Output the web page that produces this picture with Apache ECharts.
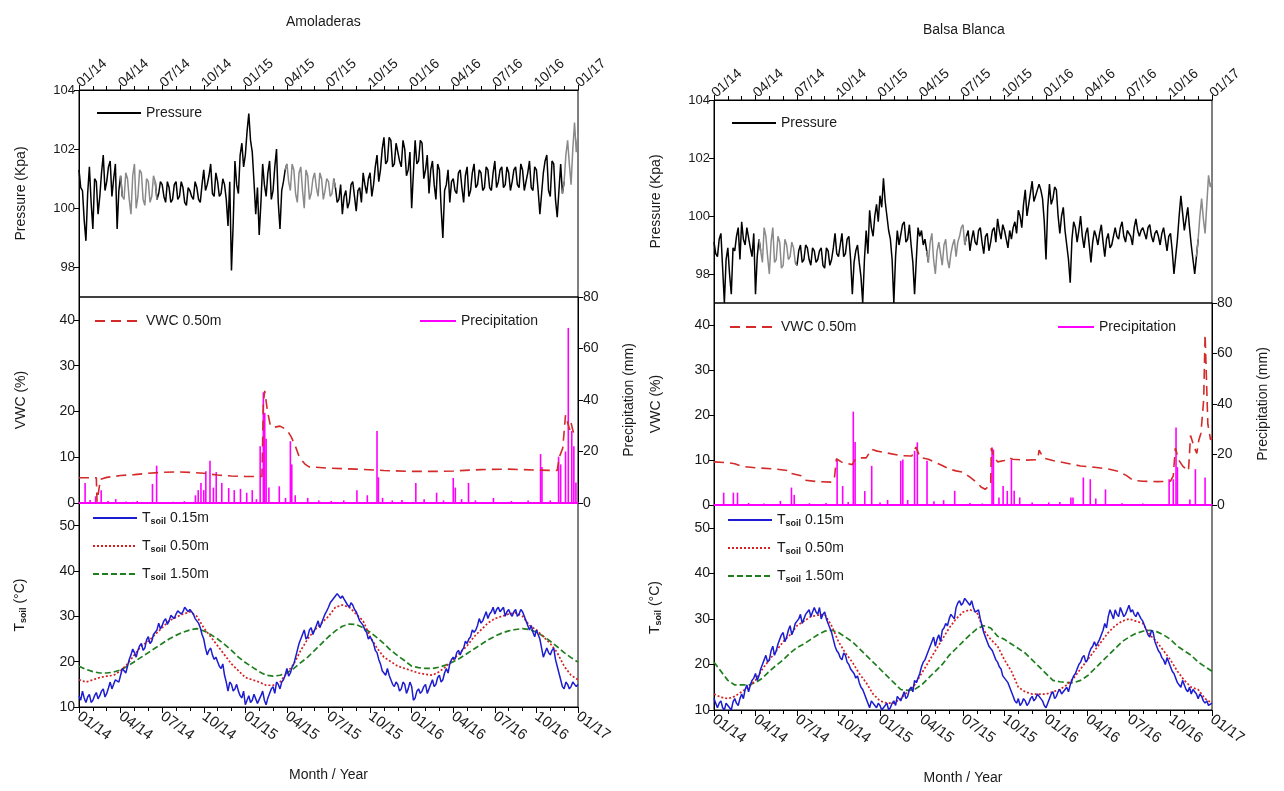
<!DOCTYPE html>
<html>
<head>
<meta charset="utf-8">
<script src="https://cdn.jsdelivr.net/npm/echarts@6/dist/echarts.min.js"></script>
<style>
html,body{margin:0;padding:0;background:#fff;}
#chart{width:1284px;height:791px;}
</style>
</head>
<body>
<div id="chart"></div>
<script>
// ---------- DATA ----------
const tickLabels = ['01/14','04/14','07/14','10/14','01/15','04/15','07/15','10/15','01/16','04/16','07/16','10/16','01/17'];
const sites = ['Amoladeras', 'Balsa Blanca'];

// Pressure (kPa): values at every 0.25 month from 01/14 ...
const pressA = [
101.3,100.6,98.9,101.4,99.3,100.9,100.4,101.8,100.9,101.6,101.0,99.3,
101.1,100.3,101.0,99.8,101.5,100.4,101.2,100.1,100.9,100.4,100.9,100.5,
100.8,100.2,100.7,100.3,100.9,100.4,100.7,100.1,100.6,100.3,100.7,100.2,
101.3,100.8,101.5,100.4,100.9,100.5,100.8,99.4,97.9,101.6,100.5,102.2,
101.8,103.2,101.9,99.8,99.1,101.5,100.4,101.6,100.6,102.0,99.3,100.9,
101.5,100.6,101.3,100.2,101.4,100.0,101.1,100.5,101.2,100.4,101.0,100.6,
100.9,100.5,100.7,100.3,99.8,100.6,100.2,100.9,99.9,100.7,101.2,100.5,
101.2,100.8,101.8,101.3,102.4,101.6,102.3,101.5,102.2,101.4,102.0,101.3,
100.0,102.3,101.6,102.2,101.3,100.5,101.6,100.3,101.3,99.0,100.8,100.2,
101.0,100.5,101.3,100.2,101.4,100.6,101.5,100.8,101.2,100.7,101.3,100.6,
101.6,100.9,101.4,100.8,101.2,100.9,101.4,100.7,101.3,100.9,101.6,100.6,
101.3,99.8,101.2,101.8,100.4,101.5,99.7,101.5,100.9,102.3,100.8,102.9,
102.5];
// ... and at the mid points in between (0.125 + 0.25 k)
const pressAMid = [
100.7,99.6,100.5,100.2,101.0,99.8,101.2,100.6,101.4,100.4,101.5,100.6,
100.4,101.2,100.3,101.1,100.0,101.3,100.3,101.0,100.2,101.1,100.3,100.9,
100.4,100.9,100.2,100.8,100.3,100.9,100.2,100.7,100.4,100.9,100.3,100.8,
100.6,101.1,100.5,101.2,100.4,101.0,100.3,100.9,99.5,100.8,101.8,101.4,
102.6,102.3,100.9,100.7,100.2,100.8,101.2,100.3,101.4,100.2,100.6,101.3,
100.9,101.5,100.5,101.2,100.6,101.3,100.3,101.0,100.7,101.2,100.3,101.0,
100.4,101.0,100.2,100.8,100.4,100.0,100.8,100.4,100.6,100.2,100.8,101.0,
100.4,101.4,100.9,102.0,101.5,102.4,101.4,102.2,101.6,102.3,101.1,101.9,
101.2,101.5,102.3,101.0,101.8,101.3,100.8,101.5,100.0,100.6,101.3,100.9,
100.6,101.2,100.7,101.1,100.4,101.2,100.7,101.3,100.6,101.4,100.7,101.2,
100.7,101.3,100.7,101.4,100.6,101.3,100.8,101.5,100.6,101.2,100.7,101.4,
100.6,100.5,101.6,100.6,101.6,100.3,100.6,100.5,101.8,101.5,102.0,101.9];
const pressB = [
99.1,98.6,99.4,97.0,98.9,97.3,98.8,99.6,99.8,99.0,99.6,98.6,
97.3,99.2,98.4,99.3,98.0,99.6,98.5,99.1,98.3,99.0,98.6,98.9,
98.3,99.0,98.5,98.9,98.3,98.8,98.5,98.9,98.2,98.8,98.5,99.4,
98.6,99.4,98.7,99.3,97.3,98.8,98.4,97.0,99.5,100.2,99.3,100.4,
100.7,101.3,100.0,99.2,97.0,99.5,99.0,99.8,99.2,99.0,97.3,99.6,
99.5,99.2,98.4,99.4,98.0,99.1,98.3,99.2,98.2,99.0,98.6,99.3,
99.7,99.3,98.8,99.5,99.0,99.6,98.7,99.4,99.1,99.6,99.9,99.2,
99.5,98.9,99.2,99.8,100.2,99.6,100.9,100.4,101.2,100.7,101.1,100.6,
98.5,101.1,100.6,100.9,99.4,100.3,99.0,97.7,99.8,99.1,100.0,98.9,
99.6,98.4,99.5,99.0,99.7,98.6,99.4,99.0,99.6,99.2,99.8,99.1,
99.5,99.0,99.9,99.3,99.6,99.2,99.7,99.1,99.5,99.0,99.6,98.8,
99.4,98.0,99.2,100.7,99.5,100.3,99.0,98.0,99.2,100.6,99.4,101.4,
101.2];
const pressBMid = [
98.7,99.2,98.2,98.5,98.0,98.9,99.3,98.5,99.2,99.6,98.9,99.4,
98.6,98.8,99.6,98.6,99.1,98.4,99.3,98.2,99.2,98.5,99.1,98.4,
98.8,98.4,99.0,98.5,98.9,98.4,98.8,98.3,98.9,98.3,98.9,98.7,
99.0,98.6,99.2,98.5,98.4,99.0,97.9,98.5,98.7,99.6,100.0,99.8,
100.3,100.5,99.5,98.5,98.6,99.0,99.7,99.1,99.7,98.4,98.5,99.3,
99.0,98.8,99.1,98.5,98.8,98.7,99.0,98.5,98.7,99.2,99.1,99.6,
99.0,99.5,99.2,99.1,99.5,99.1,99.3,98.8,99.5,99.1,99.5,99.7,
99.2,99.5,99.6,99.4,100.0,100.4,100.0,100.8,100.5,100.9,100.9,99.8,
100.3,100.4,101.0,100.0,100.0,99.5,98.5,99.2,99.6,99.5,99.3,99.4,
99.0,99.1,99.3,99.4,99.1,99.2,98.9,99.3,99.3,99.6,99.3,99.5,
99.3,99.6,99.5,99.5,99.4,99.6,99.3,99.4,99.3,99.4,99.2,99.3,
98.8,98.6,100.0,100.1,99.9,99.6,98.5,98.6,100.0,99.9,100.4,101.0];
// gap-filled (grey) periods, in months from 01/14
const grayA = [[3.1,5.6],[15.0,18.4],[35.0,36]];
const grayB = [[3.3,5.9],[15.4,18.2],[34.9,36]];

// VWC 0.50 m (%), [month, value]
const vwcA = [[0,5.5],[1.25,5.5],[1.3,0.3],[1.55,5.2],[2,5.6],[3,6.0],[4,6.2],[5,6.5],[6,6.7],[7,6.8],[8,6.7],[9,6.5],[10,6.1],[11,5.9],[12,5.8],[13.2,5.8],[13.3,22],[13.4,24.5],[13.6,20],[13.8,17],[14,16.5],[14.5,16.8],[15,16],[15.3,14.5],[15.6,12.5],[15.9,10],[16.3,8.5],[16.6,7.9],[18,7.6],[20,7.4],[22,7.1],[24,6.9],[26,6.9],[27,7.0],[29,7.3],[31,7.4],[33,7.2],[34.5,7.1],[34.65,10],[34.9,12],[35.1,19.2],[35.4,16],[35.5,17.5],[35.7,15],[36,14.5]];
const vwcB = [[0,9.6],[1,9.4],[1.5,9.2],[2,8.6],[3,8.3],[4.5,8.0],[5.5,7.6],[5.6,7.0],[6.3,6.5],[6.6,5.5],[7.5,5.2],[8.5,5.1],[8.7,5.8],[8.85,10.3],[9.2,9.6],[9.6,9.3],[10,9.0],[10.2,10.2],[10.6,10.5],[11,10.5],[11.4,12.4],[11.8,12.0],[12.5,11.6],[13.5,11.0],[14.3,10.9],[14.6,12.9],[14.9,10.6],[15.5,10.2],[16,9.5],[16.5,8.8],[17,8.0],[17.5,7.6],[18,7.3],[18.5,6.2],[19,5.0],[19.3,4.0],[19.6,3.5],[20,4.5],[20.05,12.7],[20.2,11.0],[20.5,9.6],[21,9.9],[21.3,10.5],[21.6,10.2],[22.5,10.0],[23.4,10.1],[23.5,12.2],[23.8,10.5],[24.5,9.9],[25.5,9.3],[26.5,8.7],[27.5,8.4],[28.5,8.0],[29.2,7.5],[29.8,6.6],[30.3,5.5],[31,5.3],[32,5.2],[33,5.3],[33.2,6.5],[33.35,12.7],[33.6,10.0],[33.9,8.6],[34.3,7.6],[34.45,15.5],[34.7,13.0],[34.9,11.5],[35.05,14.5],[35.2,16.0],[35.4,23.5],[35.5,38.0],[35.6,28],[35.7,18],[35.9,14.5],[36,15.0]];

// Precipitation (mm), [month, value]
const precA = [[0.44,7.8],[0.8,1.2],[1.2,2.6],[1.6,5],[2.1,0.8],[2.65,1.5],[3.4,0.6],[4.2,0.8],[5.3,7.4],[5.6,14.5],[6.8,0.5],[7.6,0.7],[8.4,3],[8.6,5],[8.8,7.8],[9.0,5],[9.15,12.3],[9.45,16.4],[9.7,6],[9.9,12],[10.3,7.8],[10.8,5.8],[11.2,5],[11.65,5.5],[12.1,4],[12.5,5],[12.8,1.5],[13.07,22],[13.3,43],[13.4,35],[13.5,25],[13.7,6],[14.45,6.5],[14.9,2],[15.25,24],[15.35,15],[15.6,3],[16.5,2],[17.3,1],[18.2,0.8],[19.1,1],[20.05,5],[20.8,3],[21.5,28],[21.6,10],[21.9,2],[22.6,1],[23.3,1.2],[24.3,7.8],[24.9,1.5],[25.8,4],[26.3,1],[27.0,9.7],[27.15,6],[27.6,1.5],[28.1,7.8],[28.6,1],[29.9,2],[31.2,0.8],[32.4,1],[33.3,19],[33.4,14],[34.0,1],[34.6,18],[34.75,15],[35.1,20],[35.3,68],[35.55,28],[35.7,22],[35.85,8]];
const precB = [[0.7,4.9],[1.4,4.9],[1.7,4.9],[2.5,0.8],[3.6,0.6],[4.8,1.6],[5.6,6.9],[5.8,4],[6.9,0.7],[8.1,0.8],[8.9,18],[9.3,7.5],[9.7,1.2],[10.07,37],[10.2,25],[10.9,5.5],[11.4,15.5],[12.0,1],[12.55,2],[13.5,17.5],[13.65,18],[14.0,2],[14.5,21.5],[14.7,24.8],[15.4,17.5],[15.9,1.5],[16.6,1.9],[17.4,5.6],[18.5,0.8],[19.4,0.6],[20.1,22.8],[20.2,22],[20.6,3],[20.9,7.5],[21.2,5.6],[21.5,18],[21.7,5.6],[22.1,3],[23.0,1],[24.2,1],[25.0,1.2],[25.8,3],[25.95,3],[26.7,10.9],[27.2,10.2],[27.6,2.6],[28.3,6.2],[29.5,0.7],[31.0,0.6],[32.9,10.2],[33.2,10.2],[33.4,30.7],[33.5,15],[34.4,2.2],[34.8,14.2],[35.5,10.9]];

// Soil temperature (°C); 0.15 m every 0.25 month (+ mid points), 0.50 m and 1.50 m every 0.5 month
const t015A = [
12.5,13.5,11.0,12.8,11.5,13.2,12.5,14.0,13.0,15.5,15.0,16.2,
17.0,18.0,19.0,21.5,22.0,22.5,24.0,23.0,25.5,24.5,26.5,28.5,
28.0,29.5,29.0,30.5,30.5,31.5,31.0,32.0,31.5,30.5,29.5,27.5,
25.0,21.5,23.0,20.5,20.0,18.5,17.0,13.5,15.0,14.0,13.5,12.0,
10.5,12.5,11.5,12.5,11.0,13.5,10.5,13.0,14.5,15.5,14.0,16.0,
18.5,17.5,19.5,22.5,25.0,27.0,25.5,27.5,27.0,29.0,28.5,30.5,
32.0,33.5,34.5,35.2,34.5,33.5,32.0,32.5,31.0,29.0,28.0,26.5,
25.5,24.0,22.0,19.5,17.5,18.5,16.0,14.5,15.0,14.0,15.0,14.0,
14.5,12.0,14.0,13.5,15.0,14.0,16.0,15.0,17.0,16.0,18.5,19.5,
21.0,22.0,21.5,23.0,24.0,25.5,26.5,28.0,28.5,30.0,29.5,31.0,
30.5,32.0,31.0,30.0,31.5,30.0,31.5,30.5,31.0,29.0,27.0,26.5,
27.0,25.0,21.0,23.0,21.5,23.0,19.0,16.0,14.0,15.0,14.5,15.0,
15.0];
const t015AMid = [
11.5,12.0,12.2,11.0,12.5,11.8,13.5,12.2,14.2,14.0,16.0,15.5,
18.5,17.5,20.5,22.8,21.0,23.5,22.5,24.8,24.0,26.0,27.0,27.2,
29.0,28.2,30.2,29.5,31.2,30.5,32.0,31.0,31.8,29.5,28.5,26.0,
23.0,22.5,21.5,21.0,19.0,19.5,15.5,15.5,13.5,15.0,12.5,13.5,
11.5,11.0,12.8,10.8,12.5,11.5,12.0,14.0,13.0,15.0,15.5,17.0,
16.8,18.8,21.0,24.0,26.0,25.0,27.0,26.0,28.0,27.5,29.5,31.2,
33.0,34.0,35.0,34.0,33.8,32.5,33.0,31.5,30.0,28.5,27.0,25.0,
24.8,22.5,20.5,18.0,17.0,17.0,15.0,15.5,13.5,15.5,13.0,15.5,
11.5,13.5,13.0,14.5,13.0,15.0,14.5,16.5,15.5,17.5,17.5,20.5,
20.5,22.5,22.5,24.5,25.0,27.0,27.0,29.5,29.0,31.0,30.5,32.0,
31.5,31.0,32.0,31.0,30.5,31.0,30.0,31.5,30.0,28.0,28.0,25.5,
26.0,23.0,22.0,22.0,22.5,20.5,17.5,14.5,15.5,14.0,15.5,14.5];
const t050A = [
16.0,15.5,16.0,16.5,16.8,17.0, 18.0,19.5,21.5,23.5,24.5,26.0,
27.5,29.0,29.8,30.5,31.0,30.0, 27.5,25.5,23.5,21.5,19.5,18.0,
16.5,16.0,15.5,14.8,14.8,15.5, 17.5,19.5,22.5,25.0,27.0,28.5,
30.0,32.0,32.5,32.0,30.5,29.0, 25.5,23.0,21.0,20.0,19.0,18.5,
18.0,17.5,17.2,17.0,17.8,19.0, 20.5,22.0,23.5,25.5,27.0,28.5,
29.5,30.0,30.5,30.8,30.0,28.0, 27.0,25.5,24.0,22.0,19.0,17.0,
16.0];
const t150A = [
19.0,18.3,17.8,17.5,17.5,17.7, 18.2,19.0,20.0,21.0,22.0,23.0,
24.0,25.0,25.8,26.5,27.0,27.3, 26.8,26.0,25.0,23.8,22.5,21.0,
19.8,18.8,17.8,17.0,16.8,17.0, 17.5,18.5,19.8,21.0,22.5,24.0,
25.5,26.8,27.8,28.3,28.2,27.5, 26.5,25.3,24.0,22.5,21.3,20.2,
19.0,18.7,18.5,18.5,18.8,19.3, 20.0,20.8,21.8,22.8,23.8,24.8,
25.6,26.3,26.8,27.1,27.3,27.1, 26.5,25.6,24.5,23.3,22.0,20.9,
19.9];
const t015B = [
12.5,10.5,12.0,10.0,11.0,10.0,12.5,11.0,13.5,14.5,14.0,16.5,
18.0,17.5,20.0,22.0,21.0,24.0,23.0,25.5,27.0,26.0,28.5,27.5,
29.5,31.0,30.0,31.5,30.5,32.5,31.0,30.0,31.5,29.0,27.0,24.0,
22.5,21.0,22.0,20.0,18.5,17.0,16.0,14.5,12.5,10.5,12.0,10.5,
11.0,10.0,11.5,10.5,12.0,13.0,12.0,14.0,13.0,15.0,16.5,17.0,
19.5,21.0,23.0,25.0,24.0,26.5,27.5,29.0,30.0,31.0,32.5,34.0,
33.5,34.5,33.0,32.5,31.5,30.0,27.0,25.0,24.0,22.0,20.5,19.0,
17.5,16.0,15.0,12.0,12.5,11.5,12.0,11.5,13.0,12.5,13.5,12.0,
10.5,12.5,14.0,13.0,14.5,13.5,15.0,15.5,17.5,19.0,20.5,22.0,
21.0,23.5,25.0,24.0,26.5,29.0,30.5,31.0,32.0,30.5,32.5,31.0,
33.0,32.0,30.5,31.5,29.5,27.5,26.0,27.0,24.0,22.5,21.0,21.5,
19.5,18.0,16.0,15.0,15.5,14.0,13.5,14.5,12.5,13.0,11.5,11.0,
11.5];
const t015BMid = [
11.5,11.5,10.5,11.5,10.5,11.8,11.5,12.5,12.5,15.5,15.5,17.0,
16.5,19.0,21.0,20.5,23.0,22.0,24.5,26.5,25.0,27.5,26.5,29.0,
30.0,29.0,31.0,32.0,31.5,31.5,32.5,31.0,30.0,28.0,25.5,23.0,
21.5,22.5,20.5,19.0,18.0,17.5,15.0,13.5,11.5,12.0,11.0,11.5,
10.0,11.0,10.0,11.5,11.0,12.5,13.0,12.5,14.5,14.0,16.0,18.0,
20.5,22.0,24.0,26.0,25.5,25.0,28.0,28.5,31.0,30.0,33.5,33.0,
34.5,33.5,34.0,31.5,32.0,28.5,26.0,24.0,23.0,21.0,19.5,17.5,
16.5,15.0,13.0,11.5,11.0,12.5,11.0,12.5,12.0,13.5,12.5,11.0,
11.5,13.5,12.5,14.0,13.5,14.5,14.0,16.5,18.0,20.0,21.5,20.5,
22.5,24.0,24.0,25.5,27.5,28.0,32.0,30.0,31.0,32.5,30.5,32.0,
31.5,31.0,31.5,30.0,28.5,26.5,27.5,25.0,23.0,21.5,20.0,20.5,
18.5,17.0,15.5,16.5,14.5,15.0,14.5,13.5,13.5,12.0,12.0,11.0];
const t050B = [
13.5,12.8,12.5,13.0,14.0,15.0, 16.5,19.0,21.0,23.0,25.0,26.5,
28.5,29.5,30.5,30.8,31.0,28.5, 25.0,22.5,20.5,18.0,16.0,13.5,
12.0,11.5,11.5,12.5,14.0,15.5, 18.0,20.5,23.0,25.5,28.0,30.0,
31.5,32.0,31.5,27.5,25.5,24.0, 21.0,18.5,15.0,14.0,13.5,13.5,
13.5,14.0,14.5,15.5,17.0,19.0, 21.0,23.0,25.0,27.0,28.5,29.5,
30.0,29.5,29.0,26.5,25.0,23.0, 21.0,18.5,16.5,15.0,14.5,12.5,
11.5];
const t150B = [
20.5,18.5,16.5,15.5,15.5,15.5, 16.0,17.0,18.5,19.8,21.0,22.5,
23.7,24.5,25.5,26.5,27.3,27.5, 27.0,26.0,25.0,23.5,22.0,20.5,
19.0,17.5,16.0,14.5,14.3,14.5, 15.5,17.0,18.5,20.0,22.0,23.5,
25.0,26.5,27.8,28.5,28.0,26.2, 25.5,24.5,23.5,22.5,21.0,19.5,
18.0,16.5,16.2,16.0,16.0,16.5, 17.5,19.0,20.5,22.0,23.5,25.0,
26.0,26.8,27.3,27.5,27.2,26.5, 25.5,24.0,23.0,22.0,20.5,19.5,
18.5];

// ---------- BUILD ----------
const FONT = 'Liberation Sans';
const TXT = '#1a1a1a';
const seq = (arr, step) => arr.map((v, i) => [i * step, v]);
// put main and mid-point readings in time order (step 0.125 month)
const merge = (main, mid) => main.flatMap((v, i) => i < mid.length ? [v, mid[i]] : [v]);
function splitGray(vals, step, segs) {
  const inG = vals.map((v, i) => segs.some(s => i * step >= s[0] && i * step <= s[1]));
  const black = [], gray = [];
  vals.forEach((v, i) => {
    const prevB = i > 0 && !inG[i - 1], nextB = i < vals.length - 1 && !inG[i + 1];
    const prevG = i > 0 && inG[i - 1], nextG = i < vals.length - 1 && inG[i + 1];
    black.push([i * step, (!inG[i] || prevB || nextB) ? v : null]);
    gray.push([i * step, (inG[i] || prevG || nextG) ? v : null]);
  });
  return { black, gray };
}
const pA = splitGray(merge(pressA, pressAMid), 0.125, grayA);
const pB = splitGray(merge(pressB, pressBMid), 0.125, grayB);

const cols = [
  { left: 79, width: 499, tops: [90, 297, 503], heights: [207, 206, 204], center: 328 },
  { left: 714, width: 498, tops: [100, 303, 505], heights: [203, 202, 205], center: 963 }
];

const grids = [], xAxes = [], yAxes = [], series = [], legends = [], graphics = [];
const lab = { fontFamily: FONT, fontSize: 13, color: TXT };
const nameStyle = { fontFamily: FONT, fontSize: 14, color: TXT };
const tickFmt = v => tickLabels[Math.round(v / 3)] || '';
const tsoilRich = {
  a: { fontFamily: FONT, fontSize: 14, color: TXT },
  s: { fontFamily: FONT, fontSize: 9, color: TXT, fontWeight: 'bold', padding: [7, 0, 0, 0] }
};
const tsoilName = { T015: '0.15m', T050: '0.50m', T150: '1.50m' };

cols.forEach((c, ci) => {
  for (let r = 0; r < 3; r++) {
    grids.push({ left: c.left, top: c.tops[r], width: c.width, height: c.heights[r],
      show: true, borderColor: '#000', borderWidth: 1, backgroundColor: 'transparent', containLabel: false });
  }
  const g0 = ci * 3;
  // x axes
  xAxes.push({ gridIndex: g0, type: 'value', min: 0, max: 36, interval: 3, position: 'top',
    axisLine: { lineStyle: { color: '#000', width: 1 } },
    axisTick: { length: 5, lineStyle: { color: '#000' } },
    minorTick: { show: true, splitNumber: 3, length: 4, lineStyle: { color: '#000' } },
    splitLine: { show: false },
    axisLabel: { ...lab, fontSize: 14, rotate: -42, margin: 5, formatter: tickFmt } });
  xAxes.push({ gridIndex: g0 + 1, type: 'value', min: 0, max: 36, interval: 3, position: 'bottom',
    axisLine: { lineStyle: { color: '#ff00ff', width: 2 } },
    axisTick: { show: false }, axisLabel: { show: false }, splitLine: { show: false } });
  xAxes.push({ gridIndex: g0 + 2, type: 'value', min: 0, max: 36, interval: 3, position: 'bottom',
    axisLine: { lineStyle: { color: '#000', width: 1 } },
    axisTick: { length: 6, lineStyle: { color: '#000' } },
    minorTick: { show: true, splitNumber: 3, length: 4, lineStyle: { color: '#000' } },
    splitLine: { show: false },
    axisLabel: { ...lab, fontSize: 15, rotate: -36, margin: 8, formatter: tickFmt },
    name: 'Month / Year', nameLocation: 'middle', nameGap: 61, nameTextStyle: nameStyle });
  // y axes
  const y0 = ci * 4;
  yAxes.push({ gridIndex: g0, type: 'value', min: 97, max: 104,
    axisLine: { show: true, lineStyle: { color: '#000' } },
    axisTick: { show: true, length: 5, customValues: [98, 100, 102, 104], lineStyle: { color: '#000' } },
    axisLabel: { ...lab, customValues: [98, 100, 102, 104], margin: 4 },
    splitLine: { show: false },
    name: 'Pressure (Kpa)', nameLocation: 'middle', nameRotate: 90, nameGap: 51, nameTextStyle: nameStyle });
  yAxes.push({ gridIndex: g0 + 1, type: 'value', min: 0, max: 45, interval: 10,
    axisLine: { show: true, lineStyle: { color: '#000' } },
    axisTick: { show: true, length: 5, lineStyle: { color: '#000' } },
    axisLabel: { ...lab, margin: 4, fontSize: 14, showMaxLabel: false }, splitLine: { show: false },
    name: 'VWC (%)', nameLocation: 'middle', nameRotate: 90, nameGap: 51, nameTextStyle: nameStyle });
  yAxes.push({ gridIndex: g0 + 1, type: 'value', min: 0, max: 80, interval: 20, position: 'right',
    axisLine: { show: true, lineStyle: { color: '#000' } },
    axisTick: { show: true, length: 5, lineStyle: { color: '#000' } },
    axisLabel: { ...lab, margin: 5, fontSize: 14 }, splitLine: { show: false },
    name: 'Precipitation (mm)', nameLocation: 'middle', nameRotate: 90, nameGap: 44, nameTextStyle: nameStyle });
  yAxes.push({ gridIndex: g0 + 2, type: 'value', min: 10, max: 55, interval: 10,
    axisLine: { show: true, lineStyle: { color: '#000' } },
    axisTick: { show: true, length: 5, lineStyle: { color: '#000' } },
    axisLabel: { ...lab, margin: 4, fontSize: 14, showMaxLabel: false }, splitLine: { show: false },
    name: '{a|T}{s|soil}{a| (°C)}', nameLocation: 'middle', nameRotate: 90, nameGap: 51,
    nameTextStyle: { ...nameStyle, rich: tsoilRich } });

  const x0 = ci * 3;
  const p = ci === 0 ? pA : pB;
  series.push({ name: 'Pressure', type: 'line', xAxisIndex: x0, yAxisIndex: y0, symbol: 'none',
    data: p.black, lineStyle: { color: '#000', width: 1.5 }, itemStyle: { color: '#000' }, z: 3 });
  series.push({ name: 'Pressure gap-filled', type: 'line', xAxisIndex: x0, yAxisIndex: y0, symbol: 'none',
    data: p.gray, lineStyle: { color: '#8a8a8a', width: 1.5 }, itemStyle: { color: '#8a8a8a' }, z: 4 });
  series.push({ name: 'Precipitation', type: 'bar', xAxisIndex: x0 + 1, yAxisIndex: y0 + 2,
    data: ci === 0 ? precA : precB, barWidth: 1.6, itemStyle: { color: '#ff00ff' }, z: 2 });
  series.push({ name: 'VWC 0.50m', type: 'line', xAxisIndex: x0 + 1, yAxisIndex: y0 + 1, symbol: 'none',
    data: ci === 0 ? vwcA : vwcB, lineStyle: { color: '#d42a2a', width: 1.6, type: [10, 6] }, itemStyle: { color: '#d42a2a' }, z: 3 });
  series.push({ name: 'T150', type: 'line', xAxisIndex: x0 + 2, yAxisIndex: y0 + 3, symbol: 'none',
    data: seq(ci === 0 ? t150A : t150B, 0.5), lineStyle: { color: '#1f7f1f', width: 1.7, type: [6, 3] }, itemStyle: { color: '#1f7f1f' }, z: 3 });
  series.push({ name: 'T050', type: 'line', xAxisIndex: x0 + 2, yAxisIndex: y0 + 3, symbol: 'none',
    data: seq(ci === 0 ? t050A : t050B, 0.5), lineStyle: { color: '#d42020', width: 1.7, type: [2, 2] }, itemStyle: { color: '#d42020' }, z: 4 });
  series.push({ name: 'T015', type: 'line', xAxisIndex: x0 + 2, yAxisIndex: y0 + 3, symbol: 'none',
    data: seq(ci === 0 ? merge(t015A, t015AMid) : merge(t015B, t015BMid), 0.125),
    lineStyle: { color: '#1c1cd0', width: 1.5 }, itemStyle: { color: '#1c1cd0' }, z: 5 });

  const L = c.left;
  const ltext = { fontFamily: FONT, fontSize: 14, color: TXT };
  const noSym = { opacity: 0 };
  legends.push({ data: ['Pressure'], left: L + 17, top: c.tops[0] + 16, padding: 0, itemWidth: 44, itemHeight: 12, itemGap: 8, textStyle: ltext, itemStyle: noSym, selectedMode: false });
  legends.push({ data: ['VWC 0.50m'], left: L + 15, top: c.tops[1] + 17, padding: 0, itemWidth: 46, itemHeight: 12, textStyle: ltext, itemStyle: noSym, selectedMode: false });
  legends.push({ data: [{ name: 'Precipitation', icon: 'rect' }], left: L + (ci === 0 ? 341 : 344), top: c.tops[1] + 17, padding: 0, itemWidth: 36, itemHeight: 2, textStyle: ltext, selectedMode: false });
  legends.push({ data: ['T015', 'T050', 'T150'], orient: 'vertical', left: L + 13, top: c.tops[2] + 8, padding: 0,
    itemWidth: 44, itemHeight: 14, itemGap: 13, selectedMode: false, itemStyle: noSym,
    formatter: n => '{a|T}{s|soil}{a| ' + tsoilName[n] + '}', textStyle: { ...ltext, rich: tsoilRich } });

  graphics.push({ type: 'text', left: c.center - (ci === 0 ? 42 : 40), top: ci === 0 ? 15 : 23,
    style: { text: sites[ci], font: '14px "Liberation Sans"', fill: TXT } });
});

const chart = echarts.init(document.getElementById('chart'), null, { renderer: 'canvas' });
chart.setOption({
  animation: false,
  backgroundColor: '#fff',
  grid: grids, xAxis: xAxes, yAxis: yAxes, series, legend: legends, graphic: graphics
});
</script>
</body>
</html>
